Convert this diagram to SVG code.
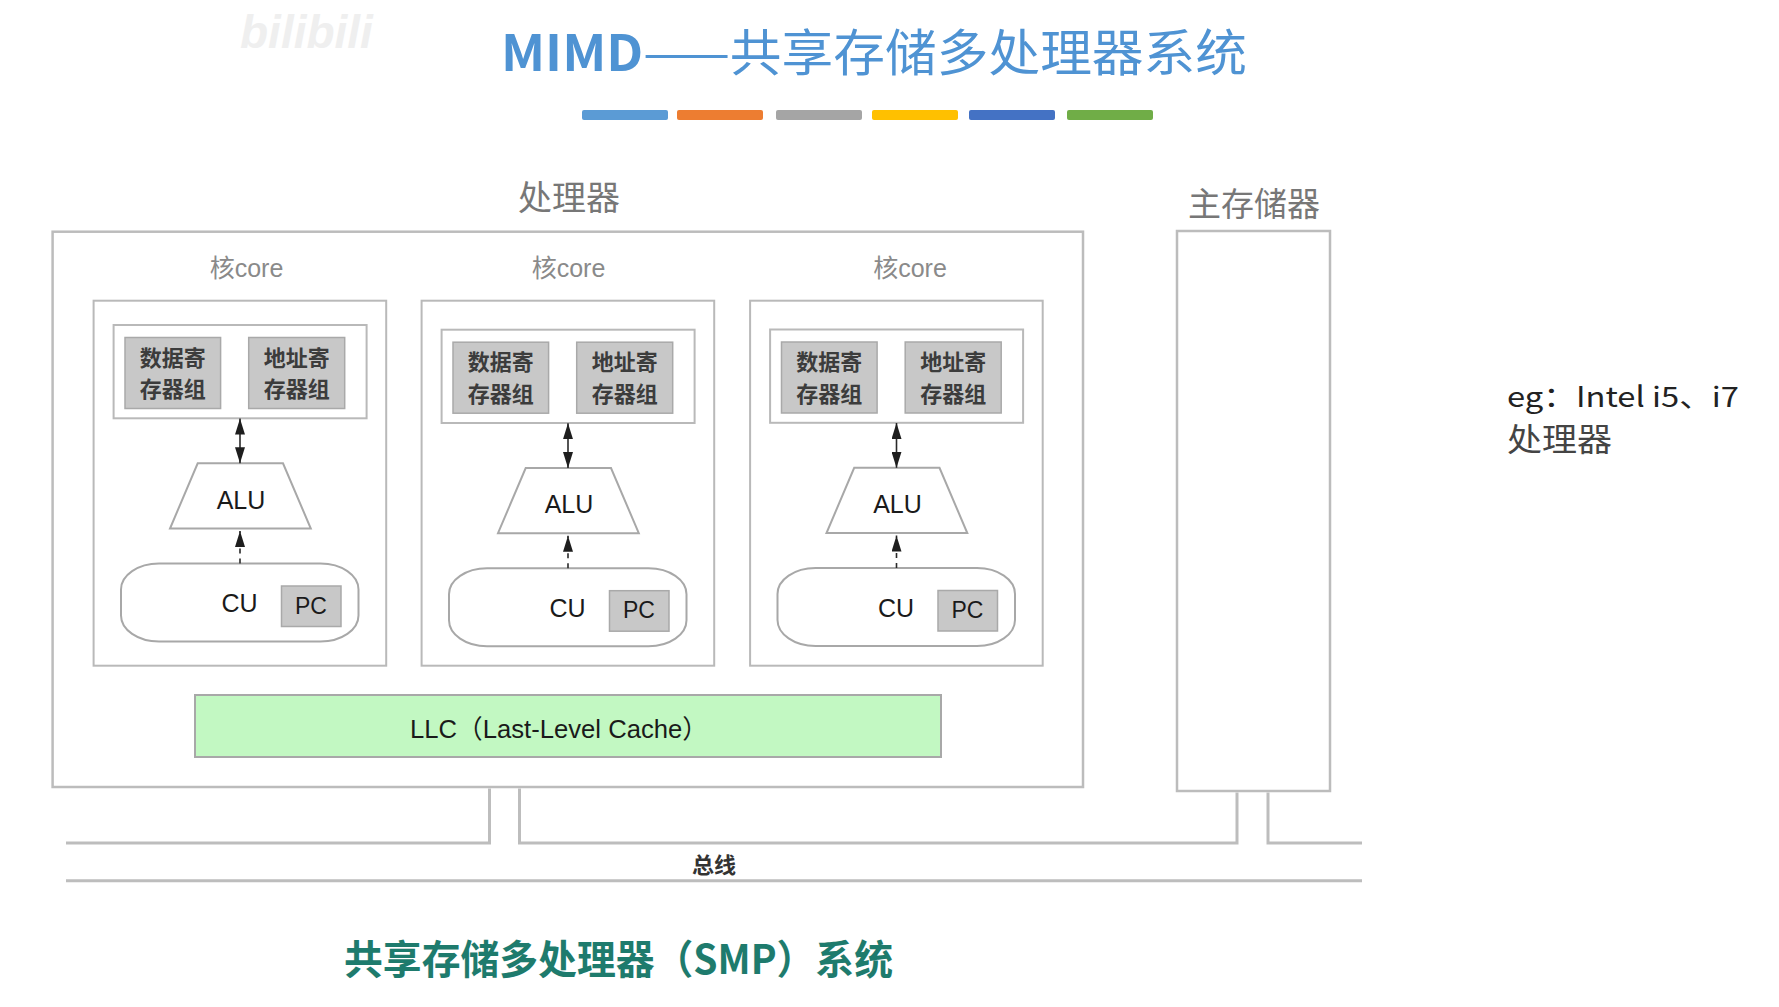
<svg xmlns="http://www.w3.org/2000/svg" width="1779" height="1007" viewBox="0 0 1779 1007">
<defs>
<marker id="ah" viewBox="0 0 16 10" refX="16" refY="5" markerWidth="16" markerHeight="10" markerUnits="userSpaceOnUse" orient="auto-start-reverse"><path d="M0,0 L16,5 L0,10 z" fill="#1e1e1e"/></marker>
</defs>
<style>
.box{fill:#fff;stroke:#bcbcbc;stroke-width:2.5}
.core{fill:#fff;stroke:#b9b9b9;stroke-width:2}
.reg{fill:#c8c8c8;stroke:#a9a9a9;stroke-width:1.5}
.shape{fill:#fff;stroke:#a8a8a8;stroke-width:2}
.lbl{font-family:"Noto Sans CJK SC","Noto Sans",sans-serif;fill:#777;text-anchor:middle}
.ctitle{font-family:"Liberation Sans","Noto Sans CJK SC",sans-serif;font-size:25px;fill:#8a8a8a;text-anchor:middle}
.regt{font-family:"Noto Sans CJK SC",sans-serif;font-size:22px;font-weight:bold;fill:#3c3c3c;text-anchor:middle}
.hv{font-family:"Liberation Sans","Noto Sans CJK SC",sans-serif;fill:#1a1a1a;text-anchor:middle}
.bus{stroke:#bdbdbd;stroke-width:3;fill:none}
.arr{stroke:#2a2a2a;stroke-width:1.6;fill:none;marker-end:url(#ah)}
.dbl{marker-start:url(#ah)}
.dash{stroke-dasharray:5 5}
</style>
<rect width="1779" height="1007" fill="#fff"/>
<text x="240" y="48" font-family="Liberation Sans, sans-serif" font-size="46" font-weight="bold" font-style="italic" fill="#efefef">bilibili</text>

<g id="title">
<text x="501" y="71" font-family="Noto Sans CJK SC, sans-serif" font-size="50" fill="#4f93d3" textLength="746" lengthAdjust="spacingAndGlyphs"><tspan font-weight="bold">MIMD</tspan>——共享存储多处理器系统</text>
<rect x="582" y="110" width="86" height="10" rx="2" fill="#5b9bd5"/>
<rect x="677" y="110" width="86" height="10" rx="2" fill="#ed7d31"/>
<rect x="776" y="110" width="86" height="10" rx="2" fill="#a5a5a5"/>
<rect x="872" y="110" width="86" height="10" rx="2" fill="#ffc000"/>
<rect x="969" y="110" width="86" height="10" rx="2" fill="#4472c4"/>
<rect x="1067" y="110" width="86" height="10" rx="2" fill="#70ad47"/>
</g>

<g id="processor">
<text class="lbl" x="569" y="210" font-size="34">处理器</text>
<rect class="box" x="52.6" y="231.7" width="1030.4" height="555.3"/>
</g>

<g id="memory">
<text class="lbl" x="1254" y="216" font-size="33">主存储器</text>
<rect class="box" x="1177" y="231" width="153" height="560"/>
</g>

<g id="core1">
<text class="ctitle" x="246.5" y="277">核core</text>
<rect class="core" x="93.6" y="300.7" width="292.6" height="365"/>
<g>
<rect class="core" x="113.6" y="325" width="253" height="93.3"/>
<rect class="reg" x="125" y="337.5" width="95.6" height="71"/>
<rect class="reg" x="248.7" y="337.5" width="96" height="71"/>
<text class="regt" x="172.8" y="365.5">数据寄</text>
<text class="regt" x="172.8" y="397">存器组</text>
<text class="regt" x="296.7" y="365.5">地址寄</text>
<text class="regt" x="296.7" y="397">存器组</text>
<polygon class="shape" points="197.7,463.3 283,463.3 310.8,528.5 170,528.5"/>
<text class="hv" x="241" y="508.5" font-size="25">ALU</text>
<rect class="shape" x="121" y="563.5" width="237.5" height="78" rx="38" ry="26"/>
<text class="hv" x="239.5" y="612" font-size="25">CU</text>
<rect class="reg" x="281.5" y="586" width="59.5" height="40.5"/>
<text class="hv" x="311" y="613.8" font-size="23">PC</text>
</g>
</g>

<g id="core2" transform="translate(328,0)">
<text class="ctitle" x="240.5" y="277">核core</text>
<rect class="core" x="93.6" y="300.7" width="292.6" height="365"/>
<g transform="translate(0,4.7)">
<rect class="core" x="113.6" y="325" width="253" height="93.3"/>
<rect class="reg" x="125" y="337.5" width="95.6" height="71"/>
<rect class="reg" x="248.7" y="337.5" width="96" height="71"/>
<text class="regt" x="172.8" y="365.5">数据寄</text>
<text class="regt" x="172.8" y="397">存器组</text>
<text class="regt" x="296.7" y="365.5">地址寄</text>
<text class="regt" x="296.7" y="397">存器组</text>
<polygon class="shape" points="197.7,463.3 283,463.3 310.8,528.5 170,528.5"/>
<text class="hv" x="241" y="508.5" font-size="25">ALU</text>
<rect class="shape" x="121" y="563.5" width="237.5" height="78" rx="38" ry="26"/>
<text class="hv" x="239.5" y="612" font-size="25">CU</text>
<rect class="reg" x="281.5" y="586" width="59.5" height="40.5"/>
<text class="hv" x="311" y="613.8" font-size="23">PC</text>
</g>
</g>

<g id="core3" transform="translate(656.5,0)">
<text class="ctitle" x="253.5" y="277">核core</text>
<rect class="core" x="93.6" y="300.7" width="292.6" height="365"/>
<g transform="translate(0,4.5)">
<rect class="core" x="113.6" y="325" width="253" height="93.3"/>
<rect class="reg" x="125" y="337.5" width="95.6" height="71"/>
<rect class="reg" x="248.7" y="337.5" width="96" height="71"/>
<text class="regt" x="172.8" y="365.5">数据寄</text>
<text class="regt" x="172.8" y="397">存器组</text>
<text class="regt" x="296.7" y="365.5">地址寄</text>
<text class="regt" x="296.7" y="397">存器组</text>
<polygon class="shape" points="197.7,463.3 283,463.3 310.8,528.5 170,528.5"/>
<text class="hv" x="241" y="508.5" font-size="25">ALU</text>
<rect class="shape" x="121" y="563.5" width="237.5" height="78" rx="38" ry="26"/>
<text class="hv" x="239.5" y="612" font-size="25">CU</text>
<rect class="reg" x="281.5" y="586" width="59.5" height="40.5"/>
<text class="hv" x="311" y="613.8" font-size="23">PC</text>
</g>
</g>

<g id="llc">
<rect x="195" y="695" width="746" height="62" fill="#c2f8c2" stroke="#a8a8a8" stroke-width="2"/>
<text class="hv" x="559" y="738" font-size="26" fill="#1c2a1c" textLength="298" lengthAdjust="spacingAndGlyphs">LLC（Last-Level Cache）</text>
</g>

<g id="connectors">
<line class="arr dbl" x1="240" y1="418.5" x2="240" y2="463.3"/>
<line class="arr dash" x1="240" y1="563.5" x2="240" y2="531"/>
<line class="arr dbl" x1="568" y1="423.2" x2="568" y2="468"/>
<line class="arr dash" x1="568" y1="568.2" x2="568" y2="535.7"/>
<line class="arr dbl" x1="896.5" y1="423" x2="896.5" y2="467.8"/>
<line class="arr dash" x1="896.5" y1="568" x2="896.5" y2="535.5"/>
<path class="bus" d="M66,843 H489.5 V788.5 M519.5,788.5 V843 H1237 V792.5 M1268,792.5 V843 H1362 M66,880.7 H1362"/>
</g>

<g id="bus-label">
<text x="714" y="873" font-family="Noto Sans CJK SC, sans-serif" font-size="22" font-weight="bold" fill="#333" text-anchor="middle">总线</text>
</g>

<g id="note">
<text x="1507" y="407" font-family="Noto Sans CJK SC, sans-serif" font-size="28" fill="#222" textLength="232" lengthAdjust="spacingAndGlyphs">eg：Intel i5、i7</text>
<text x="1507" y="451" font-family="Noto Sans CJK SC, sans-serif" font-size="32" fill="#444" textLength="105" lengthAdjust="spacingAndGlyphs">处理器</text>
</g>

<g id="caption">
<text x="344" y="974" font-family="Noto Sans CJK SC, sans-serif" font-size="40" font-weight="bold" fill="#1e7b6d" textLength="549" lengthAdjust="spacingAndGlyphs">共享存储多处理器（SMP）系统</text>
</g>
</svg>
